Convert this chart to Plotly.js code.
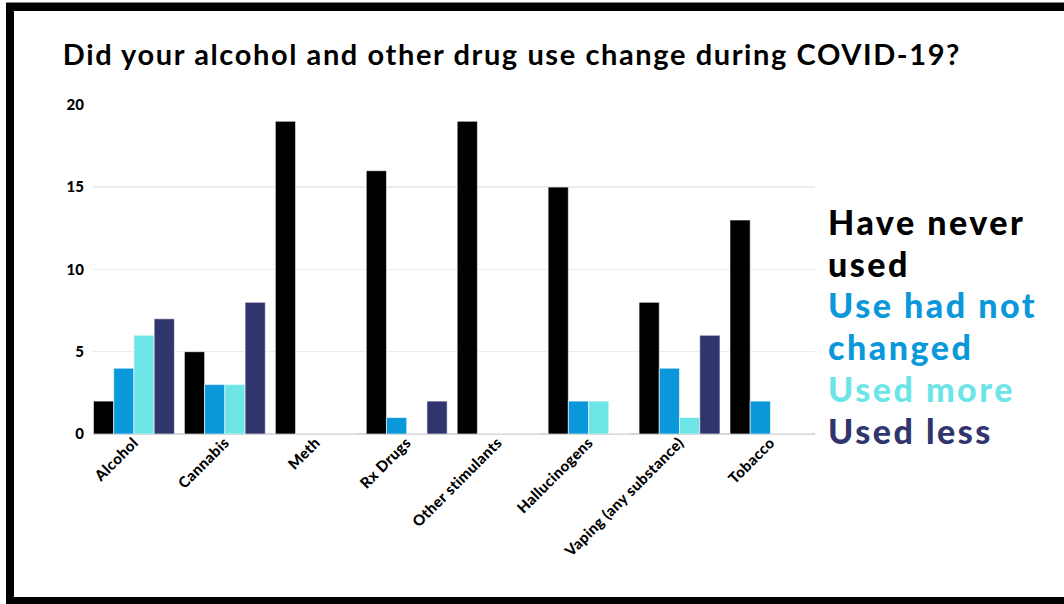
<!DOCTYPE html>
<html>
<head>
<meta charset="utf-8">
<script src="https://cdn.plot.ly/plotly-3.0.1.min.js"></script>
<style>
html,body{margin:0;padding:0;background:#fff;overflow:hidden;}
#wrap{position:relative;width:1064px;height:604px;overflow:hidden;}
#chart{position:absolute;left:0;top:0;width:1064px;height:604px;}
#frame{position:absolute;left:6px;top:3px;width:1050px;height:586px;border-top:8px solid #000;border-left:8px solid #000;border-bottom:8px solid #000;pointer-events:none;}
#topline{position:absolute;left:6px;top:2px;width:1058px;height:1px;background:#888;}
.gtitle{letter-spacing:1.6px;}
.annotation-text{letter-spacing:2.5px;}
.xtick text{letter-spacing:0.4px;}
</style>
</head>
<body>
<div id="wrap">
<div id="chart"></div>
<div id="topline"></div>
<div id="frame"></div>
</div>
<script>
const categories = ["Alcohol","Cannabis","Meth","Rx Drugs","Other stimulants","Hallucinogens","Vaping (any substance)","Tobacco"];
const haveNeverUsed = [2,5,19,16,19,15,8,13];
const useNotChanged = [4,3,0,1,0,2,4,2];
const usedMore      = [6,3,0,0,0,2,1,0];
const usedLess      = [7,8,0,2,0,0,6,0];
const seriesNames = ["Have never<br>used","Use had not<br>changed","Used more","Used less"];
const seriesColors = ["#000000","#0b98da","#6de5e7","#31356e"];
const yTicks = [0,5,10,15,20];

const seriesValues = [haveNeverUsed,useNotChanged,usedMore,usedLess];
const traces = seriesValues.map((v,i)=>({
  type:'bar', x:categories, y:v, name:seriesNames[i].replace('<br>',' '),
  marker:{color:seriesColors[i], line:{color:'#ffffff', width:0.6}},
  showlegend:false, hoverinfo:'x+y+name'
}));

// legend drawn as coloured text lines (one annotation per wrapped line)
const lineY = [0.643, 0.517, 0.391, 0.264, 0.139, 0.012];
const annotations = [];
let k = 0;
seriesNames.forEach((t,i)=>{
  t.split('<br>').forEach(line=>{
    annotations.push({
      xref:'paper', yref:'paper', x:1.015, y:lineY[k++], xanchor:'left', yanchor:'middle',
      text:line, align:'left', showarrow:false,
      font:{family:'Lato, sans-serif', size:34, weight:900, color:seriesColors[i]}
    });
  });
});

const layout = {
  width:1064, height:604,
  margin:{l:93, r:249, t:104, b:170},
  paper_bgcolor:'#ffffff', plot_bgcolor:'#ffffff',
  title:{text:'Did your alcohol and other drug use change during COVID-19?',
    font:{family:'Lato, sans-serif', size:29, weight:700, color:'#000'},
    x:0.059, xanchor:'left', xref:'container', y:0.909, yanchor:'middle', yref:'container'},
  barmode:'group', bargap:0.11, bargroupgap:0,
  xaxis:{type:'category', range:[-0.45,7.49], tickangle:-45,
    tickfont:{family:'Lato, sans-serif', size:15, weight:900, color:'#000'},
    showgrid:false, showline:false, ticks:'', ticklabelstandoff:-4, fixedrange:true},
  yaxis:{range:[0,20.05], tickvals:yTicks, ticktext:yTicks.map(String),
    tickfont:{family:'Lato, sans-serif', size:15, weight:900, color:'#000'},
    showgrid:true, gridcolor:'#ececec', gridwidth:1.5,
    zeroline:true, zerolinecolor:'#d8d8d8', zerolinewidth:2,
    ticks:'', ticklabelstandoff:8, fixedrange:true},
  annotations:annotations
};
Plotly.newPlot('chart', traces, layout, {displayModeBar:false, staticPlot:true});
</script>
</body>
</html>
